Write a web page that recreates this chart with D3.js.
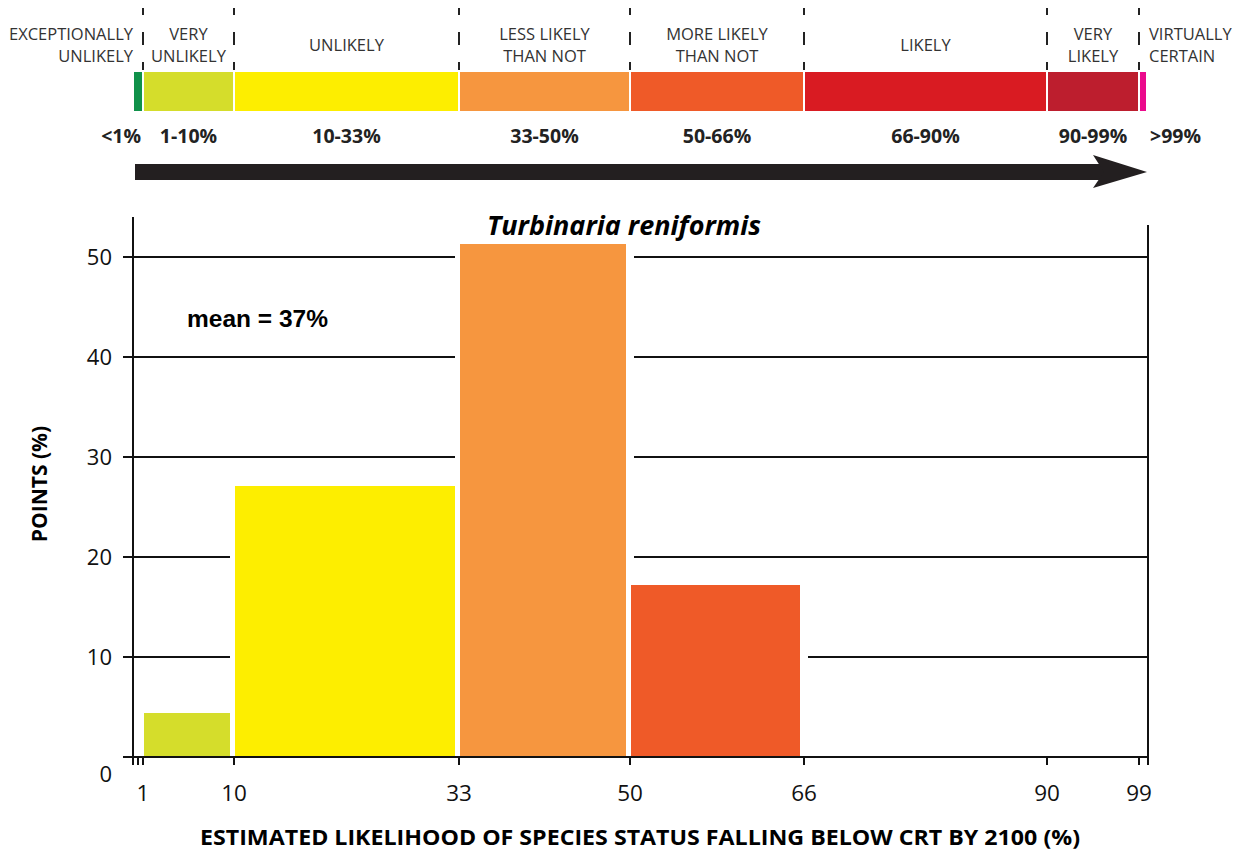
<!DOCTYPE html>
<html>
<head>
<meta charset="utf-8">
<script src="https://cdn.jsdelivr.net/npm/d3@7"></script>
<style>
body { margin: 0; background: #fff; }
svg { font-family: "Open Sans", sans-serif; }
</style>
</head>
<body>
<svg width="1238" height="852"></svg>
<script>
// likelihood categories (top band)
var bandLabels = [["EXCEPTIONALLY", "UNLIKELY"], ["VERY", "UNLIKELY"], ["UNLIKELY"], ["LESS LIKELY", "THAN NOT"],
  ["MORE LIKELY", "THAN NOT"], ["LIKELY"], ["VERY", "LIKELY"], ["VIRTUALLY", "CERTAIN"]];
var bandLo = [0, 1, 10, 33, 50, 66, 90, 99];
var bandHi = [1, 10, 33, 50, 66, 90, 99, 100];
var bandPct = ["<1%", "1-10%", "10-33%", "33-50%", "50-66%", "66-90%", "90-99%", ">99%"];
var bandColors = ["#10914a", "#d5dd2b", "#fdee00", "#f6963f", "#ef5a28", "#d91b22", "#bd1e2e", "#eb0a8c"];

// histogram bins
var binLo = [1, 10, 33, 50, 66, 90];
var binHi = [10, 33, 50, 66, 90, 99];
var points = [4.4, 27.1, 51.3, 17.2, 0, 0];
var binColors = ["#d5dd2b", "#fdee00", "#f6963f", "#ef5a28", "#d91b22", "#bd1e2e"];

var xTicks = [1, 10, 33, 50, 66, 90, 99];
var yTicks = [0, 10, 20, 30, 40, 50];

var svg = d3.select("svg");

// the original axis is slightly uneven, so a piecewise scale
var x = d3.scaleLinear()
  .domain([0, 1, 10, 33, 50, 66, 90, 99, 100])
  .range([134, 143, 234, 459, 630, 804, 1047, 1139, 1147]);
var y = d3.scaleLinear().domain([0, 50]).range([757, 257]);

var bandTop = 72, bandBottom = 111;

// ---- top likelihood band ----
var band = svg.append("g");

band.selectAll(".seg")
  .data(bandLo)
  .enter()
  .append("rect")
  .attr("x", function (d, i) { return x(d) + (i == 0 ? 0 : 1); })
  .attr("y", bandTop)
  .attr("width", function (d, i) { return Math.max(2, x(bandHi[i]) - x(d) - (i == 0 ? 1 : 2)); })
  .attr("height", bandBottom - bandTop)
  .attr("fill", function (d, i) { return bandColors[i]; });

band.selectAll(".sep")
  .data(xTicks)
  .enter()
  .append("line")
  .attr("x1", function (d) { return x(d); })
  .attr("x2", function (d) { return x(d); })
  .attr("y1", 8)
  .attr("y2", bandTop)
  .attr("stroke", "#222")
  .attr("stroke-width", 2)
  .attr("stroke-dasharray", "7,17,13,17,8");

function bandX(i) {
  if (i == 0) return x(0) - 1;
  if (i == bandLo.length - 1) return x(100) + 2;
  return (x(bandLo[i]) + x(bandHi[i])) / 2;
}
function bandAnchor(i) {
  if (i == 0) return "end";
  if (i == bandLo.length - 1) return "start";
  return "middle";
}

bandLabels.forEach(function (lines, i) {
  var t = band.append("text")
    .attr("x", bandX(i))
    .attr("text-anchor", bandAnchor(i))
    .attr("font-size", "16.5px")
    .attr("fill", "#333");
  if (lines.length == 1) {
    t.append("tspan").attr("x", bandX(i)).attr("y", 51).text(lines[0]);
  } else {
    t.append("tspan").attr("x", bandX(i)).attr("y", 40).text(lines[0]);
    t.append("tspan").attr("x", bandX(i)).attr("y", 62).text(lines[1]);
  }
});

band.selectAll(".pct")
  .data(bandPct)
  .enter()
  .append("text")
  .attr("x", function (d, i) { return i == 0 ? x(1) - 2 : (i == bandPct.length - 1 ? x(100) + 3 : bandX(i)); })
  .attr("y", 143)
  .attr("text-anchor", function (d, i) { return bandAnchor(i); })
  .attr("font-size", "19.5px")
  .attr("font-weight", "bold")
  .attr("fill", "#222")
  .text(function (d) { return d; });

// big arrow
var ay = 172;
svg.append("rect")
  .attr("x", x(0) + 1)
  .attr("y", ay - 8)
  .attr("width", 1108 - x(0))
  .attr("height", 16)
  .attr("fill", "#231f20");
svg.append("path")
  .attr("d", "M1093," + (ay - 17) + " L1147," + ay + " L1093," + (ay + 16) + " L1104," + ay + " Z")
  .attr("fill", "#231f20");

// ---- histogram ----
var chart = svg.append("g");

chart.selectAll(".grid")
  .data(yTicks.slice(1))
  .enter()
  .append("line")
  .attr("x1", x(0) - 11)
  .attr("x2", x(100) + 1)
  .attr("y1", function (d) { return y(d); })
  .attr("y2", function (d) { return y(d); })
  .attr("stroke", "#111")
  .attr("stroke-width", 2);

// white halo that cuts the grid lines round each bar
chart.selectAll(".halo")
  .data(points)
  .enter()
  .filter(function (d) { return d > 0; })
  .append("rect")
  .attr("x", function (d, i) { return x(binLo[i]) - 4; })
  .attr("y", function (d) { return y(d) - 4; })
  .attr("width", function (d, i) { return x(binHi[i]) - x(binLo[i]) + 8; })
  .attr("height", function (d) { return y(0) - y(d) + 4; })
  .attr("fill", "#fff");

chart.selectAll(".bar")
  .data(points)
  .enter()
  .append("rect")
  .attr("class", "bar")
  .attr("x", function (d, i) { return x(binLo[i]) + 1; })
  .attr("y", function (d) { return y(d); })
  .attr("width", function (d, i) { return x(binHi[i]) - x(binLo[i]) - 5; })
  .attr("height", function (d) { return y(0) - y(d); })
  .attr("fill", function (d, i) { return binColors[i]; });

// baseline, axis lines and ticks
chart.append("line")
  .attr("x1", x(0) - 11).attr("x2", x(100) + 1)
  .attr("y1", y(0)).attr("y2", y(0))
  .attr("stroke", "#111").attr("stroke-width", 2);
chart.append("line")
  .attr("x1", x(0) - 1).attr("x2", x(0) - 1)
  .attr("y1", 217).attr("y2", y(0) + 8)
  .attr("stroke", "#111").attr("stroke-width", 2);
chart.append("line")
  .attr("x1", x(100) + 1).attr("x2", x(100) + 1)
  .attr("y1", 225).attr("y2", y(0) + 8)
  .attr("stroke", "#111").attr("stroke-width", 2);

chart.selectAll(".xtick")
  .data(xTicks)
  .enter()
  .append("line")
  .attr("x1", function (d) { return x(d); })
  .attr("x2", function (d) { return x(d); })
  .attr("y1", y(0))
  .attr("y2", y(0) + 8)
  .attr("stroke", "#111")
  .attr("stroke-width", 2);
chart.append("line")
  .attr("x1", x(0) + 4).attr("x2", x(0) + 4)
  .attr("y1", y(0)).attr("y2", y(0) + 8)
  .attr("stroke", "#111").attr("stroke-width", 2);

chart.selectAll(".xlab")
  .data(xTicks)
  .enter()
  .append("text")
  .attr("x", function (d) { return x(d); })
  .attr("y", 801)
  .attr("text-anchor", "middle")
  .attr("font-size", "22.5px")
  .attr("fill", "#111")
  .text(function (d) { return d; });

chart.selectAll(".ylab")
  .data(yTicks)
  .enter()
  .append("text")
  .attr("x", 112)
  .attr("y", function (d) { return d == 0 ? y(d) + 25 : y(d) + 8; })
  .attr("text-anchor", "end")
  .attr("font-size", "22px")
  .attr("fill", "#111")
  .text(function (d) { return d; });

// titles
svg.append("text")
  .attr("x", 624)
  .attr("y", 235)
  .attr("text-anchor", "middle")
  .attr("font-size", "27px")
  .attr("font-weight", "bold")
  .attr("font-style", "italic")
  .attr("fill", "#000")
  .text("Turbinaria reniformis");

svg.append("text")
  .attr("x", 187)
  .attr("y", 327)
  .style("font-family", "'Liberation Sans', Arial, sans-serif")
  .attr("font-size", "24.5px")
  .attr("font-weight", "bold")
  .attr("fill", "#000")
  .text("mean = 37%");

svg.append("text")
  .attr("transform", "translate(47,484) rotate(-90)")
  .attr("text-anchor", "middle")
  .attr("font-size", "21px")
  .attr("font-weight", "bold")
  .attr("fill", "#000")
  .text("POINTS (%)");

svg.append("text")
  .attr("x", 640)
  .attr("y", 845)
  .attr("text-anchor", "middle")
  .attr("font-size", "21px")
  .attr("font-weight", "bold")
  .attr("fill", "#000")
  .attr("textLength", 880)
  .attr("lengthAdjust", "spacingAndGlyphs")
  .text("ESTIMATED LIKELIHOOD OF SPECIES STATUS FALLING BELOW CRT BY 2100 (%)");
</script>
</body>
</html>
